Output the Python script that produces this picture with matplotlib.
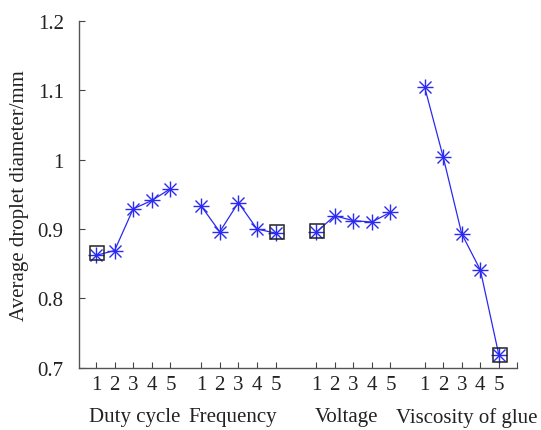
import matplotlib
matplotlib.use('Agg')
import matplotlib.pyplot as plt
import matplotlib.transforms as mtransforms

plt.rcParams['font.family'] = ['Liberation Serif', 'DejaVu Serif']

# Data
groups = ['Duty cycle', 'Frequency', 'Voltage', 'Viscosity of glue']
levels = ['1', '2', '3', '4', '5']
duty_cycle = [0.862, 0.869, 0.929, 0.941, 0.958]
frequency = [0.933, 0.896, 0.938, 0.900, 0.894]
voltage = [0.895, 0.919, 0.912, 0.910, 0.924]
viscosity = [1.105, 1.004, 0.893, 0.841, 0.718]
series = [duty_cycle, frequency, voltage, viscosity]

# chosen (optimal) level of each factor, marked with a square
best_level = [1, 5, 1, 5]
best_value = [0.865, 0.895, 0.897, 0.719]

# Layout: start of each group on the x axis
group_start = [1.0, 6.65, 12.82, 18.65]
label_x = [3.10, 8.37, 14.48, 20.93]

fig = plt.figure(figsize=(5.41, 4.31), dpi=100)
ax = fig.add_axes([0.146, 0.144, 0.81, 0.806])

blue = '#2a2af0'
ticks, ticklabels = [], []
for start, vals in zip(group_start, series):
    xs = [start + i for i in range(len(vals))]
    ax.plot(xs, vals, color=blue, lw=0.9, marker='+', ms=12, mew=1.0, zorder=3)
    ax.plot(xs, vals, color=blue, lw=0, marker='x', ms=8.5, mew=1.0, zorder=3)
    ticks += xs
    ticklabels += levels

for start, lvl, val in zip(group_start, best_level, best_value):
    ax.plot(start + lvl - 1 + 0.08, val, marker='s', ms=10, mfc='none',
            mec='#222222', mew=1.1, ls='none', zorder=4, clip_on=False)

ticks.append(23.63)
ticklabels.append('')

ax.set_xlim(0.086, 23.63)
ax.set_ylim(0.7, 1.2)
ax.set_xticks(ticks)
ax.set_xticklabels(ticklabels)
ax.set_yticks([0.7, 0.8, 0.9, 1.0, 1.1, 1.2])
ax.set_yticklabels(['0.7', '0.8', '0.9', '1', '1.1', '1.2'])
ax.tick_params(direction='in', length=4, width=0.8, colors='#444444',
               labelsize=15, labelcolor='#222222')
ax.tick_params(axis='x', pad=5)
ax.tick_params(axis='y', pad=11)

for s in ['top', 'right']:
    ax.spines[s].set_visible(False)
for s in ['left', 'bottom']:
    ax.spines[s].set_color('#555555')
    ax.spines[s].set_linewidth(1.0)

ax.set_ylabel('Average droplet diameter/mm', fontsize=15, color='#222222', labelpad=6)

trans = mtransforms.blended_transform_factory(ax.transData, ax.transAxes)
for x, name in zip(label_x, groups):
    ax.text(x, -0.14, name, transform=trans, ha='center', va='center',
            fontsize=15, color='#222222')

fig.savefig('out.png', dpi=100)
